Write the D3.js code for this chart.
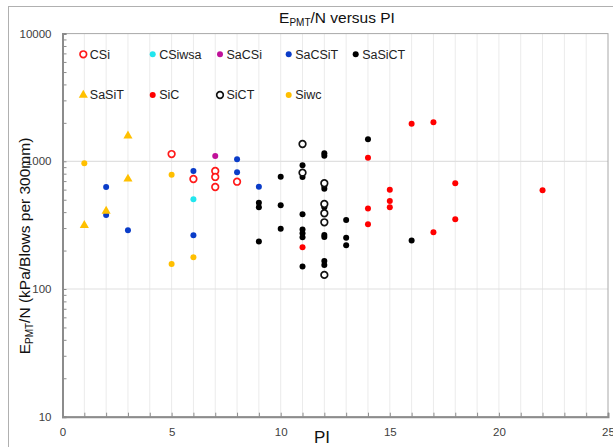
<!DOCTYPE html>
<html><head><meta charset="utf-8">
<script src="https://cdn.jsdelivr.net/npm/d3@7"></script>
<style>body{margin:0;background:#fff}svg{display:block;font-family:"Liberation Sans",Arial,sans-serif}</style>
</head><body><svg id="c" width="613" height="447"></svg>
<script>
// ---- data ----
const seriesNames = ["CSi","CSiwsa","SaCSi","SaCSiT","SaSiCT","SaSiT","SiC","SiCT","Siwc"];
const CSi    = [[5,1140],[6,727],[7,840],[7,754],[7,629],[8,692]];
const CSiwsa = [[6,504]];
const SaCSi  = [[7,1100]];
const SaCSiT = [[2,629],[2,380],[3,288],[6,840],[6,263],[8,1037],[8,820],[9,632]];
const SaSiCT = [[9,474],[9,436],[9,236],[10,757],[10,452],[10,297],
                [11,930],[11,754],[11,385],[11,293],[11,273],[11,254],[11,150],
                [12,1156],[12,1103],[12,641],[12,610],[12,436],[12,265],[12,255],[12,166],[12,154],
                [13,347],[13,252],[13,220],[14,1486],[16,240]];
const SaSiT  = [[1,315],[2,408],[3,1585],[3,727]];
const SiC    = [[11,212],[14,1066],[14,426],[14,321],[15,600],[15,489],[15,436],
                [16,1971],[17,2018],[17,278],[18,672],[18,352],[22,593]];
const SiCT   = [[11,1366],[11,815],[12,673],[12,463],[12,392],[12,333],[12,129]];
const Siwc   = [[1,964],[5,785],[5,157],[6,177]];
const seriesData = [CSi,CSiwsa,SaCSi,SaCSiT,SaSiCT,SaSiT,SiC,SiCT,Siwc];
const xTicks = d3.range(0,26,1);
const xLabels = [0,5,10,15,20,25];
const yMajor = [10,100,1000,10000];

// ---- style ----
const styles = {
  CSi:{shape:"open",color:"#ff1a1a"},
  CSiwsa:{shape:"dot",color:"#22e6ee"},
  SaCSi:{shape:"dot",color:"#c0119a"},
  SaCSiT:{shape:"dot",color:"#0a3cc8"},
  SaSiCT:{shape:"dot",color:"#000000"},
  SaSiT:{shape:"tri",color:"#ffc000"},
  SiC:{shape:"dot",color:"#ff0000"},
  SiCT:{shape:"open",color:"#111111"},
  Siwc:{shape:"dot",color:"#ffbf00"}
};

const svg = d3.select("#c");
const L=62.5,R=608,T=33.6,B=416.7;
const x = d3.scaleLinear([0,25],[L,R]);
const y = d3.scaleLog([10,10000],[B,T]);

// outer frame
svg.append("rect").attr("x",8.5).attr("y",6.5).attr("width",700).attr("height",600)
  .attr("fill","none").attr("stroke","#b0b0b0");

// gridlines
svg.append("g").selectAll("line").data(xTicks.filter(d=>d>0&&d<25)).join("line")
  .attr("x1",d=>x(d)).attr("x2",d=>x(d)).attr("y1",T).attr("y2",B)
  .attr("stroke","#ebebeb").attr("stroke-width",1);
svg.append("g").selectAll("line").data([100,1000]).join("line")
  .attr("x1",L).attr("x2",R).attr("y1",d=>y(d)).attr("y2",d=>y(d))
  .attr("stroke","#e0e0e0").attr("stroke-width",1.2);

// plot border
svg.append("rect").attr("x",L).attr("y",T).attr("width",R-L).attr("height",B-T)
  .attr("fill","none").attr("stroke","#a8a8a8").attr("stroke-width",1);

// y axis
const yTickVals = [];
for (let e=1;e<4;e++) for (let m=1;m<10;m++) yTickVals.push(m*Math.pow(10,e));
yTickVals.push(10000);
const ya = svg.append("g").attr("transform",`translate(${L},0)`)
  .call(d3.axisLeft(y).tickValues(yTickVals).tickSize(-4).tickPadding(11)
    .tickFormat(d=>yMajor.includes(d)?String(d):""));
ya.select(".domain").attr("stroke","#8c8c8c").attr("stroke-width",2);
ya.selectAll(".tick line").attr("stroke","#8c8c8c");
ya.selectAll(".tick text").attr("font-size",11.5).attr("fill","#404040")
  .attr("font-family","Liberation Sans, Arial, sans-serif");

// x axis
const xa = svg.append("g").attr("transform",`translate(0,${B})`)
  .call(d3.axisBottom(x).tickValues(xTicks).tickSize(-4).tickPadding(11)
    .tickFormat(d=>xLabels.includes(d)?String(d):""));
xa.select(".domain").attr("stroke","#8c8c8c").attr("stroke-width",2);
xa.selectAll(".tick line").attr("stroke","#8c8c8c");
xa.selectAll(".tick text").attr("font-size",11.5).attr("fill","#404040")
  .attr("font-family","Liberation Sans, Arial, sans-serif");

// marker drawing
function drawMarker(g, st){
  if(st.shape==="open"){
    g.append("circle").attr("r",3.3).attr("fill","#fff").attr("stroke",st.color).attr("stroke-width",1.7);
  } else if(st.shape==="dot"){
    g.append("circle").attr("r",3).attr("fill",st.color);
  } else {
    g.append("path").attr("d",d3.symbol(d3.symbolTriangle,36)()).attr("fill",st.color);
  }
}

// points
seriesNames.forEach((name,i)=>{
  const st = styles[name];
  const g = svg.append("g");
  seriesData[i].forEach(p=>{
    const m = g.append("g").attr("transform",`translate(${x(p[0])},${y(p[1])})`);
    drawMarker(m, st);
  });
});

// legend
const legPos = [[83.3,54.3],[152.7,54.3],[220,54.3],[288.7,54.3],[355.7,54.3],
                [83.3,95],[152.7,95],[220,95],[288.7,95]];
seriesNames.forEach((name,i)=>{
  const [lx,ly]=legPos[i];
  const m = svg.append("g").attr("transform",`translate(${lx},${ly})`);
  drawMarker(m, styles[name]);
  svg.append("text").attr("x",lx+6.5).attr("y",ly+4.3).attr("font-size",12.5)
    .attr("fill","#222").text(name);
});

// title
const t = svg.append("text").attr("x",337).attr("y",23).attr("text-anchor","middle")
  .attr("font-size",15.5).attr("fill","#111");
t.append("tspan").text("E");
t.append("tspan").attr("font-size",10).attr("dy",3).text("PMT");
t.append("tspan").attr("dy",-3).text("/N versus PI");

// y label
const yl = svg.append("text").attr("transform","translate(30,246) rotate(-90)")
  .attr("text-anchor","middle").attr("font-size",15.5).attr("fill","#111");
yl.append("tspan").text("E");
yl.append("tspan").attr("font-size",10).attr("dy",3).text("PMT");
yl.append("tspan").attr("dy",-3).text("/N (kPa/Blows per 300mm)");

// x label
svg.append("text").attr("x",322).attr("y",443).attr("text-anchor","middle")
  .attr("font-size",17).attr("fill","#111").text("PI");
</script></body></html>
